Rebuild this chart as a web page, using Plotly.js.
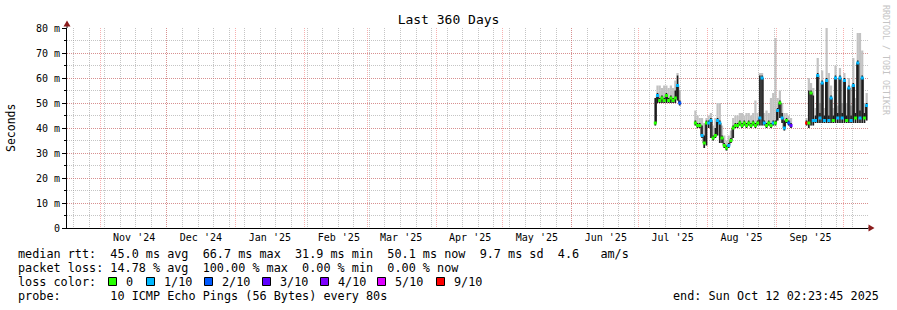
<!DOCTYPE html>
<html><head><meta charset="utf-8">
<script src="https://cdn.plot.ly/plotly-3.0.1.min.js"></script>
<style>html,body{margin:0;padding:0;background:#fff}#chart{width:897px;height:310px}</style>
</head><body><div id="chart"></div>
<script>
// ---- data (milliseconds), one entry per day ----
const days = [
 '2025-07-08','2025-07-09','2025-07-10','2025-07-11','2025-07-12','2025-07-13','2025-07-14','2025-07-15','2025-07-16','2025-07-17','2025-07-18','2025-07-19',
 '2025-07-20','2025-07-21','2025-07-22','2025-07-23','2025-07-24','2025-07-25',
 '2025-07-26','2025-07-27','2025-07-28','2025-07-29','2025-07-30','2025-07-31',
 '2025-08-01','2025-08-02','2025-08-03','2025-08-04','2025-08-05','2025-08-06','2025-08-07','2025-08-08','2025-08-09','2025-08-10',
 '2025-08-11','2025-08-12','2025-08-13','2025-08-14','2025-08-15','2025-08-16','2025-08-17','2025-08-18','2025-08-19','2025-08-20',
 '2025-08-21','2025-08-22','2025-08-23','2025-08-24','2025-08-25','2025-08-26','2025-08-27','2025-08-28','2025-08-29','2025-08-30','2025-08-31',
 '2025-09-01','2025-09-02','2025-09-03','2025-09-04','2025-09-05','2025-09-06','2025-09-07',
 '2025-09-08','2025-09-09','2025-09-10','2025-09-11','2025-09-12','2025-09-13',
 '2025-09-14','2025-09-15','2025-09-16','2025-09-17','2025-09-18','2025-09-19','2025-09-20','2025-09-21','2025-09-22','2025-09-23',
 '2025-09-24','2025-09-25','2025-09-26','2025-09-27','2025-09-28','2025-09-29','2025-09-30',
 '2025-10-01','2025-10-02','2025-10-03','2025-10-04','2025-10-05','2025-10-06','2025-10-07','2025-10-08','2025-10-09','2025-10-10','2025-10-11'
];
const median = [
 42,53,51,52,51,53,51,52,51,52,57,50,
 null,null,null,null,null,null,
 42,41,41,37,34,42,
 42,43,36,37,43,42,36,33,32,33,
 35,40,41,41,42,41,42,41,42,41,
 42,41,42,44,60,42,41,42,41,42,42,
 47,50,44,40,43,42,41,
 null,null,null,null,null,null,
 42,42,54,43,43,61,44,58,43,59,
 43,52,43,60,44,60,44,
 59,43,56,43,57,44,66,44,60,44,49
];
const smokeLow = [
 41,50,50,50,50,50,50,50,50,50,51,49,
 null,null,null,null,null,null,
 41,40,40,36,32,33,
 40,36,35,36,37,34,34,32,31,32,
 34,36,40,40,41,40,41,40,41,40,
 41,40,41,41,41,41,40,41,40,41,41,
 43,44,42,39,42,41,40,
 null,null,null,null,null,null,
 41,40,41,41,42,42,42,42,42,42,
 42,42,42,42,42,42,42,
 42,42,42,42,42,42,42,42,42,42,43
];
const darkTop = [
 52,54,52,53,52,54,52,53,52,55,61,51,
 null,null,null,null,null,null,
 43,42,42,41,37,43,
 43,44,37,40,44,43,37,34,33,34,
 36,41,42,42,43,42,43,42,43,42,
 43,42,43,61,61,43,42,43,42,43,43,
 48,51,46,43,44,43,42,
 null,null,null,null,null,null,
 43,55,55,53,45,62,46,59,45,60,
 45,53,45,61,46,61,46,
 60,45,57,45,58,46,67,47,61,46,50
];
const smokeTop = [
 52,57,57,56,57,57,56,57,56,59,62,55,
 null,null,null,null,null,null,
 47,45,44,44,42,44,
 45,46,41,44,50,50,41,37,35,37,
 39,44,45,45,46,46,45,46,46,45,
 46,51,46,62,62,46,47,46,52,54,76,
 52,55,50,46,46,45,44,
 null,null,null,null,null,null,
 44,60,58,56,48,68,50,63,48,80,
 62,57,48,65,49,64,50,
 62,50,60,49,68,52,78,78,71,50,54
];
const lossTenths = [
 0,1,0,0,0,0,0,0,0,0,1,2,
 null,null,null,null,null,null,
 0,0,0,1,0,0,
 1,1,0,0,1,1,0,0,0,1,
 0,0,0,0,0,0,0,0,0,0,
 0,0,0,1,1,1,0,0,0,1,0,
 1,0,1,1,0,2,3,
 null,null,null,null,null,null,
 10,0,0,1,1,1,1,1,1,1,
 1,1,0,1,1,1,1,
 1,0,1,1,1,0,1,1,1,0,1
];

const monthStarts = ['2024-11-01','2024-12-01','2025-01-01','2025-02-01','2025-03-01','2025-04-01',
  '2025-05-01','2025-06-01','2025-07-01','2025-08-01','2025-09-01','2025-10-01'];
const monthLabels = ["Nov '24","Dec '24","Jan '25","Feb '25","Mar '25","Apr '25",
  "May '25","Jun '25","Jul '25","Aug '25","Sep '25",""];
const yTickVals = [0,10,20,30,40,50,60,70,80];
const yTickText = ['0','10 m','20 m','30 m','40 m','50 m','60 m','70 m','80 m'];

const lossLevels = [0,1,2,3,4,5,9];
const lossLabels = ['0','1/10','2/10','3/10','4/10','5/10','9/10'];
const lossColors = ['#26ff00','#00b8ff','#0059ff','#5e00ff','#7e00ff','#dd00ff','#ff0000'];

const statLines = [
  'median rtt:  45.0 ms avg  66.7 ms max  31.9 ms min  50.1 ms now  9.7 ms sd  4.6   am/s',
  'packet loss: 14.78 % avg  100.00 % max  0.00 % min  0.00 % now',
  'loss color:',
  'probe:       10 ICMP Echo Pings (56 Bytes) every 80s'
];
const endText = 'end: Sun Oct 12 02:23:45 2025';
const titleText = 'Last 360 Days';
const rangeStart = '2024-10-17 02:23:45';
const rangeEnd = '2025-10-12 02:23:45';

// ---- build ----
const DAY = 86400000;
const xs = days.map(d => d + ' 12:00');
const colorFor = n => {
  if (n == null) return 'rgba(0,0,0,0)';
  let c = lossColors[0];
  lossLevels.forEach((lv, i) => { if (n >= lv) c = lossColors[i]; });
  return c;
};
const span = (top, low) => top.map((t, i) => (t == null || low[i] == null) ? null : t - low[i]);

const traces = [
  { type:'bar', x: xs, base: smokeLow, y: span(smokeTop, smokeLow), width: DAY,
    marker:{color:'#c2c2c2', line:{width:0}}, hoverinfo:'skip' },
  { type:'bar', x: xs, base: smokeLow, y: span(darkTop, smokeLow), width: DAY*0.7,
    marker:{color:'#1c1c1c', line:{width:0}}, hoverinfo:'skip' },
  { type:'scatter', mode:'lines+markers', x: xs, y: median, connectgaps:false,
    line:{color:'#222', width:1, shape:'hvh'},
    marker:{symbol:'square', size:3, color: lossTenths.map(colorFor), line:{width:0}},
    hoverinfo:'skip' }
];

const PW = 801, PH = 200, L = 67, T = 28;
const px = x => (x - L) / PW;
const py = y => (T + PH - y) / PH;
const nb = s => s.replace(/ /g, '\u00a0');
const mono = 'DejaVu Sans Mono';

const annotations = [
  { text:'Seconds', xref:'paper', yref:'paper', x: px(11), y: 0.5, textangle:-90,
    showarrow:false, xanchor:'center', yanchor:'middle', font:{family:mono, size:11.5, color:'#000'} },
  { text: nb('RRDTOOL / TOBI OETIKER'), xref:'paper', yref:'paper', x: px(886), y: py(60), textangle:90,
    showarrow:false, xanchor:'center', yanchor:'middle', font:{family:mono, size:8.3, color:'#c4c4c4'} },
];
const rowY = [254, 268, 282, 296];
statLines.forEach((s, i) => annotations.push({
  text: nb(s), xref:'paper', yref:'paper', x: px(16), y: py(rowY[i]), showarrow:false,
  xanchor:'left', yanchor:'middle', font:{family:mono, size:11.8, color:'#000'}
}));
annotations.push({ text: nb(endText), xref:'paper', yref:'paper', x: px(881), y: py(296), showarrow:false,
  xanchor:'right', yanchor:'middle', font:{family:mono, size:11.8, color:'#000'} });

const sqLeft = [108, 146, 204, 262, 320, 377, 436];
const shapes = [];
lossLabels.forEach((lab, i) => {
  shapes.push({ type:'rect', xref:'paper', yref:'paper', x0: px(sqLeft[i]+0.5), x1: px(sqLeft[i]+8.5),
    y0: py(277.5), y1: py(285.5), fillcolor: lossColors[i], line:{color:'#000', width:1} });
  annotations.push({ text: lab, xref:'paper', yref:'paper', x: px(sqLeft[i] + 16), y: py(282), showarrow:false,
    xanchor:'left', yanchor:'middle', font:{family:mono, size:11.8, color:'#000'} });
});
// axis extensions + arrows
shapes.push({ type:'line', xref:'paper', yref:'paper', x0: px(67), x1: px(67), y0: 1, y1: py(24), line:{color:'#000', width:1} });
shapes.push({ type:'line', xref:'paper', yref:'paper', x0: 1, x1: px(870), y0: 0, y1: 0, line:{color:'#000', width:1} });
shapes.push({ type:'path', xref:'paper', yref:'paper', fillcolor:'#8b1c1c', line:{width:0},
  path:`M ${px(63.5)},${py(26.5)} L ${px(67)},${py(20.5)} L ${px(70.5)},${py(26.5)} Z` });
shapes.push({ type:'path', xref:'paper', yref:'paper', fillcolor:'#8b1c1c', line:{width:0},
  path:`M ${px(868.5)},${py(224.5)} L ${px(874.5)},${py(228)} L ${px(868.5)},${py(231.5)} Z` });

const majorGrid = 'rgba(240,80,80,0.45)';
const minorGrid = 'rgba(150,150,150,0.55)';
const layout = {
  width: 897, height: 310,
  margin: {l: L, r: 897 - L - PW, t: T, b: 310 - T - PH, pad: 0},
  paper_bgcolor:'#fff', plot_bgcolor:'#fff',
  showlegend:false, barmode:'overlay', hovermode:false,
  font:{family:mono, size:10, color:'#000'},
  title:{text: titleText, x:0.5, xref:'container', xanchor:'center', y: 1 - 19/310, yref:'container', yanchor:'middle',
    font:{family:mono, size:13, color:'#000'}},
  xaxis:{type:'date', range:[rangeStart, rangeEnd], autorange:false, automargin:false,
    tickmode:'array', tickvals: monthStarts, ticktext: monthLabels,
    ticklabelshift: 34, showgrid:true, gridcolor: majorGrid, griddash:'1px,1px', gridwidth:1,
    showline:true, linecolor:'#000', linewidth:1, ticks:'', zeroline:false, fixedrange:true,
    tickfont:{family:mono, size:10, color:'#000'},
    minor:{tickmode:'linear', tick0:'2024-10-20', dtick: 7*DAY, showgrid:true, gridcolor: minorGrid, griddash:'1px,1px', gridwidth:1}},
  yaxis:{range:[0,80], autorange:false, automargin:false, tickmode:'array', tickvals: yTickVals, ticktext: yTickText,
    showgrid:true, gridcolor: majorGrid, griddash:'1px,1px', gridwidth:1,
    showline:true, linecolor:'#000', linewidth:1, zeroline:false, fixedrange:true,
    ticks:'outside', ticklen:4, tickcolor:'#000', tickwidth:1,
    tickfont:{family:mono, size:10, color:'#000'},
    minor:{tickmode:'linear', tick0:0, dtick:5, showgrid:true, gridcolor: minorGrid, griddash:'1px,1px', gridwidth:1,
      ticks:'outside', ticklen:2, tickcolor:'#000'}},
  shapes, annotations
};
Plotly.newPlot('chart', traces, layout, {displayModeBar:false, staticPlot:true});
</script>
</body></html>
